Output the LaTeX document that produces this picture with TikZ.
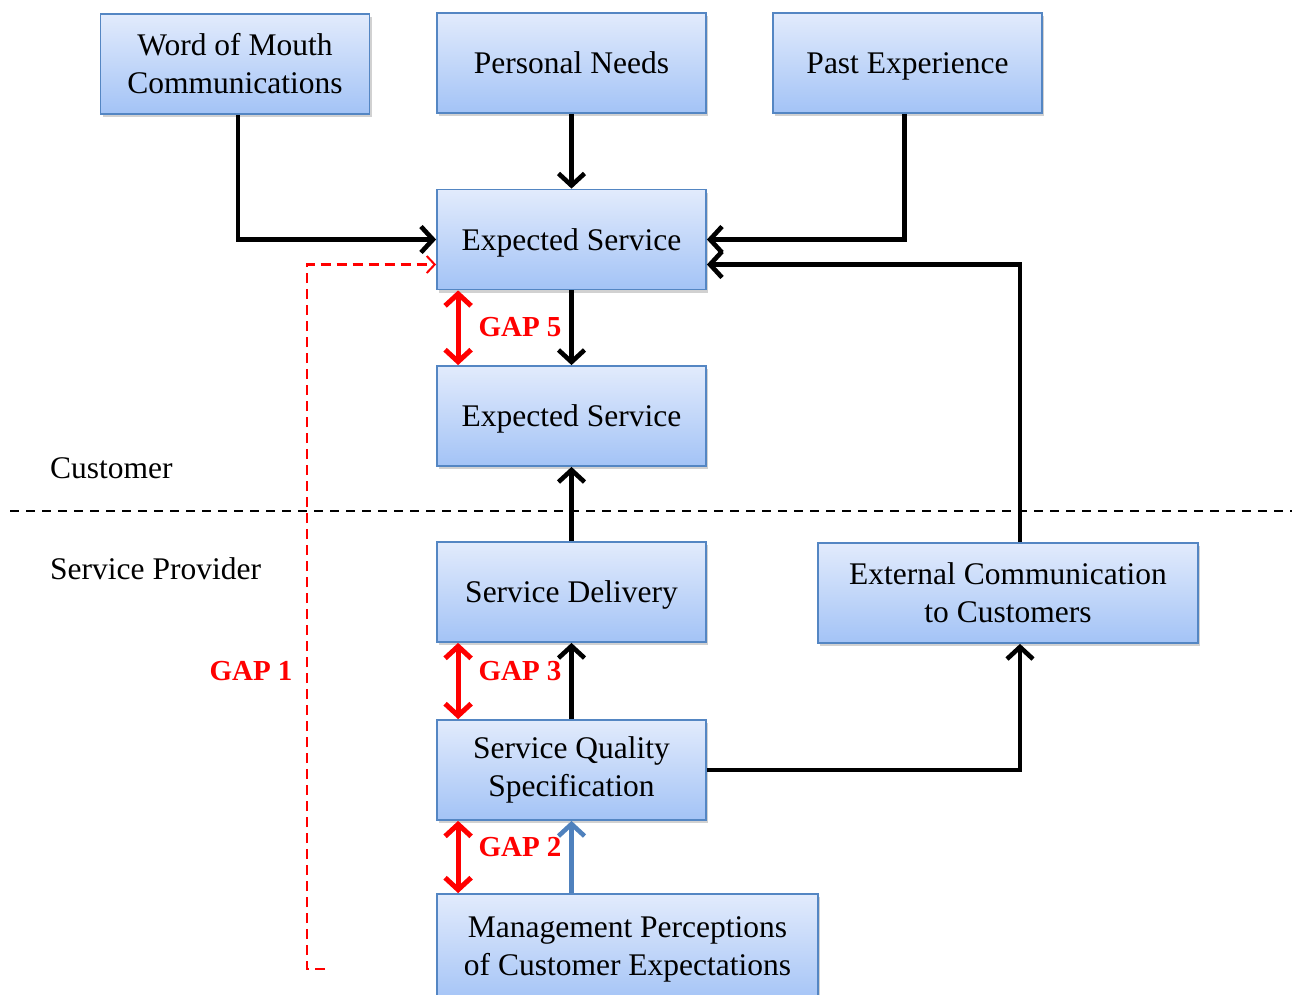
\documentclass[tikz,border=0pt]{standalone}
\usepackage{fontspec}
\setmainfont{Liberation Serif}
\usetikzlibrary{arrows.meta,shadows,calc}
\definecolor{boxtop}{RGB}{226,235,252}
\definecolor{boxbot}{RGB}{163,195,246}
\definecolor{boxline}{RGB}{84,134,195}
\definecolor{mgmtblue}{RGB}{79,129,189}
\begin{document}
\begin{tikzpicture}[x=1pt,y=-1pt,
  box/.style={draw=boxline, line width=1.8pt, top color=boxtop, bottom color=boxbot,
    minimum width=269pt, minimum height=100pt, align=center, inner sep=0pt,
    font=\fontsize{31.5}{38}\selectfont,
    drop shadow={shadow xshift=2pt, shadow yshift=-3pt, opacity=0.3, fill=black!60}},
  onebox/.style={box, text depth=0pt},
  conn/.style={line width=4.6pt, -{Straight Barb[length=12pt,width=26pt,line width=4.6pt]}},
  gaparrow/.style={red, line width=5pt, {Straight Barb[length=12pt,width=26pt,line width=5pt]}-{Straight Barb[length=12pt,width=26pt,line width=5pt]}},
  gaplabel/.style={text=red, font=\bfseries\fontsize{29}{34}\selectfont, inner sep=0pt},
  sidelabel/.style={anchor=west, inner sep=0pt, font=\fontsize{31.5}{38}\selectfont},
  reddash/.style={red, line width=2.3pt, dash pattern=on 10pt off 6pt, -{Straight Barb[length=8pt,width=17pt,line width=2pt]}}
]
\clip (0,0) rectangle (1295,994);
\useasboundingbox (0,0) rectangle (1295,994);

% boxes
\node[box] (wom) at (235,64) {Word of Mouth\\Communications};
\node[onebox] (pn) at (571.5,63) {Personal Needs};
\node[onebox] (pe) at (907.5,63) {Past Experience};
\node[onebox] (es1) at (571.5,239.5) {Expected Service};
\node[onebox] (es2) at (571.5,416) {Expected Service};
\node[onebox] (sd) at (571.5,592) {Service Delivery};
\node[box, minimum width=380pt] (ext) at (1008,593) {External Communication\\to Customers};
\node[box] (sqs) at (571.5,770) {Service Quality\\Specification};
\node[box, minimum width=381pt, minimum height=110pt] (mgmt) at (627.5,949) {Management Perceptions\\of Customer Expectations};

% side labels
\node[sidelabel] (cust) at (50,468) {Customer};
\node[sidelabel] (prov) at (50,569) {Service Provider};
\coordinate (dl) at (10,511);
\coordinate (dr) at (1292,511);
\draw[line width=2.4pt, dash pattern=on 9pt off 7pt] (dl) -- (dr);

% connectors
\draw[conn] ($(wom.south)+(3,0)$) |- (es1.west);
\draw[conn] (pn.south) -- (es1.north);
\draw[conn] ($(pe.south)+(-3,0)$) |- (es1.east);
\draw[conn] ($(ext.north)+(12,0)$) |- ($(es1.east)+(0,25)$);
\draw[conn] (es1.south) -- (es2.north);
\draw[conn] (sd.north) -- (es2.south);
\draw[conn] (sqs.north) -- (sd.south);
\draw[conn] (sqs.east) -| ($(ext.south)+(12,0)$);
\draw[conn, draw=mgmtblue] (sqs.south |- mgmt.north) -- (sqs.south);

% gap arrows
\draw[gaparrow] ($(es1.south west)+(22,0)$) -- ($(es2.north west)+(22,0)$);
\draw[gaparrow] ($(sd.south west)+(22,0)$) -- ($(sqs.north west)+(22,0)$);
\draw[gaparrow] ($(sqs.south west)+(22,0)$) -- ($(mgmt.north west)+(22,0)$);
\node[gaplabel] (g5) at (520,327) {GAP 5};
\node[gaplabel] (g3) at (520,671) {GAP 3};
\node[gaplabel] (g2) at (520,847) {GAP 2};
\node[gaplabel] (g1) at (251,671) {GAP 1};

% gap 1 dashed
\coordinate (g1start) at (325,969);
\coordinate (g1corner) at (307,969);
\draw[reddash] (g1start) -- (g1corner) |- ($(es1.west)+(0,25)$);
\end{tikzpicture}
\end{document}
